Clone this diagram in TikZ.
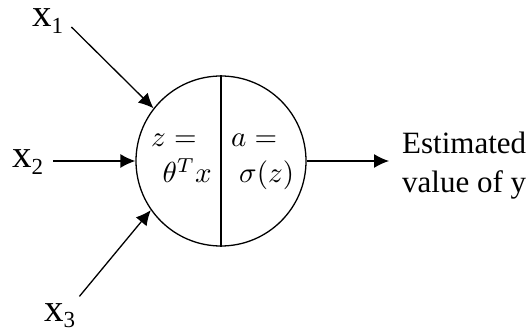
\documentclass[tikz,border=0pt]{standalone}
\usepackage{amsmath}
\usepackage{graphicx}
\usepackage{fontspec}
\setmainfont{Liberation Serif}
\usetikzlibrary{arrows.meta}

\newcommand{\inx}[1]{x\raisebox{-6.5pt}{\fontsize{23}{23}\selectfont #1}}
\newcommand{\unitmath}[1]{\scalebox{2.9}{$#1$}}

\begin{document}
\begin{tikzpicture}[
    x=1pt,y=1pt,
    >={Latex[length=15pt,width=14pt]},
    inlabel/.style={
        anchor=base west,
        inner sep=0pt,
        font=\fontsize{39}{42}\selectfont
    },
    mathtxt/.style={
        inner sep=0pt
    },
    neuron/.style={
        draw,
        circle,
        line width=1.3pt,
        minimum size=170pt,
        inner sep=0pt
    },
    outtxt/.style={
        anchor=west,
        align=left,
        inner xsep=13pt,
        inner ysep=0pt,
        font=\fontsize{31}{39}\selectfont
    },
    arrow/.style={
        ->,
        line width=1.3pt
    }
]
\useasboundingbox (0,0) rectangle (530,327);

\node[neuron] (unit) at (221,166) {};
\draw[line width=1.3pt] (unit.north) -- (unit.south);

\node[mathtxt,anchor=base west] (zeq) at (151,180) {\unitmath{z=}};
\node[mathtxt,anchor=base east] (lin) at (212,144) {\unitmath{\theta^T x}};
\node[mathtxt,anchor=base west] (aeq) at (231,180) {\unitmath{a=}};
\node[mathtxt,anchor=base west] (sig) at (239,144) {\unitmath{\sigma(z)}};

\node[inlabel] (x1) at (32,300) {\inx{1}};
\node[inlabel] (x2) at (12,159) {\inx{2}};
\node[inlabel] (x3) at (44,6) {\inx{3}};

\node[outtxt] (est) at (389,161.5) {Estimated\\value of y};

\draw[arrow] ([xshift=8pt]x1.base east) -- (unit.142);
\draw[arrow,shorten <=10pt] (x2.east |- unit.west) -- (unit.west);
\draw[arrow] ([shift={(4,6.5)}]x3.north east) -- (unit.215);
\draw[arrow] (unit.east) -- (unit.east -| est.west);

\end{tikzpicture}
\end{document}
